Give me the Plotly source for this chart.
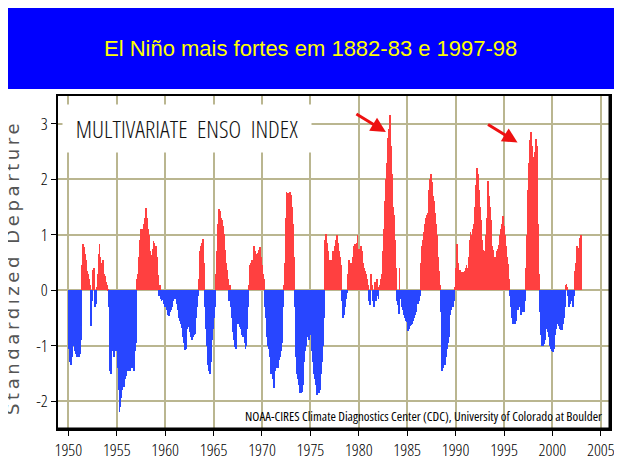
import plotly.graph_objects as go

# ---------------- data (bimonthly MEI) ----------------
years = list(range(1950, 2003))

mei_1950s = [
    -1.05, -1.15, -1.3, -1.35, -1.2, -1.0, -0.9, -0.95, -1.1, -1.15, -1.2, -1.2,   # 1950
    -1.2, -1.2, -1.15, -0.9, 0.45, 0.75, 0.84, 0.78, 0.65, 0.5, 0.55, 0.35,        # 1951
    0.3, 0.2, 0.1, -0.3, -0.64, -0.2, 0.36, 0.4, 0.1, -0.3, -0.25, 0.05,           # 1952
    0.3, 0.65, 0.83, 0.6, 0.45, 0.5, 0.55, 0.4, 0.3, 0.25, 0.15, 0.1,              # 1953
    0.05, 0.02, -0.3, -1.45, -1.5, -1.2, -1.0, -1.1, -1.2, -1.1, -1.0, -1.05,      # 1954
    -1.1, -1.4, -1.8, -2.2, -2.1, -1.95, -1.8, -1.75, -1.7, -1.75, -1.6, -1.55,    # 1955
    -1.45, -1.45, -1.4, -1.3, -1.45, -1.4, -1.3, -1.2, -1.4, -1.45, -1.1, -0.95,   # 1956
    -0.8, 0.2, 0.3, 0.6, 0.9, 1.0, 1.1, 1.0, 1.1, 1.2, 1.3, 1.42,                  # 1957
    1.49, 1.3, 1.1, 1.0, 0.85, 0.7, 0.55, 0.64, 0.75, 0.88, 0.85, 0.8,             # 1958
    0.79, 0.6, 0.45, 0.28, -0.1, 0.1, -0.15, -0.2, -0.18, -0.15, -0.25, -0.3,      # 1959
]
mei_1960s = [
    -0.3, -0.2, -0.35, -0.45, -0.47, -0.4, -0.3, -0.35, -0.3, -0.2, -0.15, -0.12,  # 1960
    -0.12, -0.15, -0.25, -0.35, -0.45, -0.5, -0.55, -0.6, -0.68, -0.75, -0.85, -0.95,  # 1961
    -1.07, -1.05, -0.9, -0.7, -0.6, -0.66, -0.75, -0.84, -0.85, -0.9, -0.84, -0.8,  # 1962
    -0.78, -0.75, -0.5, -0.3, -0.1, 0.2, 0.5, 0.7, 0.8, 0.85, 0.93, 0.8,           # 1963
    0.5, -0.3, -0.7, -1.0, -1.2, -1.35, -1.45, -1.5, -1.3, -1.1, -0.9, -0.7,       # 1964
    -0.5, -0.3, -0.2, 0.3, 0.7, 1.2, 1.47, 1.42, 1.38, 1.3, 1.26, 1.15,            # 1965
    1.02, 0.85, 0.72, 0.5, 0.36, 0.2, -0.1, -0.2, 0.1, -0.3, -0.5, -0.66,          # 1966
    -0.75, -0.9, -1.02, -1.05, -0.8, -0.6, -0.54, -0.6, -0.66, -0.7, -0.75, -0.8,  # 1967
    -0.85, -0.78, -0.95, -1.05, -1.0, -0.7, -0.3, 0.1, 0.3, 0.45, 0.5, 0.55,       # 1968
    0.55, 0.7, 0.79, 0.7, 0.65, 0.6, 0.62, 0.67, 0.72, 0.78, 0.6, 0.45,            # 1969
]
mei_1970s = [
    0.45, 0.3, 0.2, -0.3, -0.5, -0.7, -0.85, -1.0, -1.05, -1.2, -1.35, -1.5,       # 1970
    -1.5, -1.6, -1.77, -1.7, -1.45, -1.4, -1.4, -1.4, -1.3, -1.25, -1.2, -1.1,     # 1971
    -0.95, -0.7, -0.3, 0.1, 0.5, 1.3, 1.77, 1.75, 1.7, 1.75, 1.77, 1.72,           # 1972
    1.7, 1.5, 1.2, 0.6, -0.3, -0.8, -1.2, -1.5, -1.6, -1.7, -1.8, -1.86,           # 1973
    -1.86, -1.83, -1.7, -1.5, -1.3, -1.1, -1.0, -0.85, -0.7, -0.8, -0.9, -0.8,     # 1974
    -0.7, -0.9, -1.1, -1.3, -1.5, -1.6, -1.7, -1.85, -1.89, -1.8, -1.85, -1.8,     # 1975
    -1.7, -1.5, -1.3, -1.0, -0.5, 0.3, 0.9, 1.02, 0.85, 0.7, 0.6, 0.55,            # 1976
    0.55, 0.5, 0.55, 0.6, 0.7, 0.65, 0.8, 0.9, 1.0, 1.0, 0.85, 0.7,                # 1977
    0.6, 0.45, 0.3, -0.2, -0.5, -0.45, -0.3, -0.25, -0.15, -0.05, 0.3, 0.54,       # 1978
    0.3, 0.4, 0.5, 0.45, 0.6, 0.74, 0.8, 0.84, 0.78, 0.85, 0.99, 0.65,             # 1979
]
mei_1980s = [
    0.75, 0.7, 0.8, 0.7, 0.6, 0.5, 0.4, 0.35, 0.3, 0.3, 0.2, 0.1,                  # 1980
    -0.2, -0.27, -0.1, 0.3, 0.1, -0.2, -0.3, -0.25, 0.15, -0.2, 0.2, -0.1,         # 1981
    -0.15, 0.05, 0.1, 0.2, 0.3, 0.4, 0.7, 1.1, 1.6, 2.0, 2.3, 2.6,                 # 1982
    2.75, 2.9, 3.15, 2.6, 2.3, 2.1, 1.5, 1.35, 0.9, 0.6, 0.4, -0.2,                # 1983
    -0.27, -0.42, 0.4, -0.1, -0.15, -0.3, -0.35, -0.4, -0.45, -0.5, -0.55, -0.57,  # 1984
    -0.6, -0.74, -0.7, -0.65, -0.63, -0.6, -0.5, -0.55, -0.5, -0.45, -0.4, -0.3,   # 1985
    -0.2, -0.25, -0.2, -0.1, 0.3, 0.5, 0.8, 0.9, 1.05, 1.1, 1.2, 1.3,              # 1986
    1.35, 1.4, 1.6, 1.8, 2.0, 2.1, 1.95, 1.9, 1.7, 1.6, 1.4, 1.2,                  # 1987
    1.0, 0.8, 0.6, 0.35, 0.1, -0.4, -0.9, -1.45, -1.4, -1.3, -1.35, -1.3,          # 1988
    -1.2, -1.05, -0.95, -0.84, -0.6, -0.45, -0.35, -0.3, -0.3, -0.25, -0.2, 0.05,  # 1989
]
mei_1990s = [
    0.4, 0.84, 0.5, 0.36, 0.3, 0.36, 0.33, 0.3, 0.3, 0.33, 0.33, 0.35,             # 1990
    0.4, 0.45, 0.35, 0.4, 0.6, 0.9, 1.05, 0.9, 1.0, 1.1, 1.2, 1.26,                # 1991
    1.5, 1.9, 2.2, 2.1, 1.95, 1.8, 1.5, 1.26, 0.9, 0.72, 0.6, 0.55,                # 1992
    0.7, 1.0, 1.3, 1.6, 1.96, 1.7, 1.5, 1.26, 1.0, 0.8, 0.72, 0.6,                 # 1993
    0.55, 0.54, 0.6, 0.7, 0.75, 0.81, 0.9, 1.0, 1.1, 1.2, 1.33, 1.2,               # 1994
    1.15, 1.0, 0.8, 0.6, 0.47, 0.3, 0.2, -0.1, -0.3, -0.5, -0.6, -0.55,            # 1995
    -0.6, -0.6, -0.55, -0.4, -0.3, -0.35, -0.25, -0.3, -0.4, -0.45, -0.4, -0.35,   # 1996
    -0.4, -0.3, -0.2, 0.4, 1.0, 1.8, 2.3, 2.55, 2.7, 2.85, 2.6, 2.3,               # 1997
    2.25, 2.4, 2.5, 2.73, 2.6, 1.9, 1.2, 0.3, -0.4, -0.8, -1.0, -0.96,             # 1998
    -1.0, -0.97, -0.9, -0.85, -0.7, -0.6, -0.75, -0.85, -0.9, -1.0, -1.05, -1.1,   # 1999
]
mei_2000s = [
    -1.11, -1.05, -0.9, -0.8, -0.7, -0.6, -0.57, -0.6, -0.65, -0.7, -0.72, -0.72,  # 2000
    -0.7, -0.6, -0.5, -0.3, 0.1, 0.12, 0.05, -0.1, -0.3, -0.25, -0.2, -0.1,        # 2001
    -0.2, -0.3, -0.1, 0.1, 0.35, 0.5, 0.8, 0.77, 0.7, 0.85, 0.95, 0.99,            # 2002
]

x_tick_vals = list(range(1950, 2006, 5))
x_tick_text = [str(v) for v in x_tick_vals]
y_tick_vals = [-2, -1, 0, 1, 2, 3]
y_tick_text = ["-2", "-1", "0", "1", "2", "3"]

banner_text = "El Niño mais fortes em 1882-83 e 1997-98"
chart_title = "MULTIVARIATE ENSO INDEX"
y_title = "Standardized Departure"
credit = "NOAA-CIRES Climate Diagnostics Center (CDC), University of Colorado at Boulder"
peaks = [(1982.8, 2.85), (1996.4, 2.66)]  # arrow tips (year, value)

# ---------------- build ----------------
values = mei_1950s + mei_1960s + mei_1970s + mei_1980s + mei_1990s + mei_2000s
xs = [y + (m + 0.5) / 12 for y in years for m in range(12)]
pos = [v if v > 0 else 0 for v in values]
neg = [v if v < 0 else 0 for v in values]

RED = "#ff4040"
BLUE = "#2846ff"
GRID = "#bab690"
COND = "Open Sans, sans-serif"


def narrow(s, extra=""):
    return '<span style="font-stretch:75%;' + extra + '">' + s + '</span>'


fig = go.Figure()
fig.add_bar(x=xs, y=pos, width=1 / 12, marker=dict(color=RED, line_width=0), hoverinfo="skip")
fig.add_bar(x=xs, y=neg, width=1 / 12, marker=dict(color=BLUE, line_width=0), hoverinfo="skip")

# page body adds an 8px offset; place the plot so it lands where the reference has it
W, H = 622, 457
OFF = 8
PL, PT, PW, PH = 58, 96, 552, 333          # plot area in screenshot pixels
L, T = PL - OFF, PT - OFF
R, B = W - L - PW, H - T - PH


def px(xs_):
    return (xs_ - PL) / PW


def py(ys_):
    return (PT + PH - ys_) / PH


tick_font = dict(family=COND, size=17, color="black", weight=300)

fig.update_layout(
    template="none",
    width=W, height=H,
    margin=dict(l=L, r=R, t=T, b=B, pad=0, autoexpand=False),
    paper_bgcolor="white", plot_bgcolor="white",
    barmode="overlay", bargap=0,
    showlegend=False,
    xaxis=dict(
        automargin=False,
        range=[1948.93, 2005.95], tickmode="array", tickvals=x_tick_vals,
        ticktext=[narrow(t) for t in x_tick_text],
        showgrid=True, gridcolor=GRID, gridwidth=2, zeroline=False,
        showline=True, linecolor="black", linewidth=2, mirror=True,
        ticks="outside", ticklen=5, tickcolor="black", tickwidth=1,
        tickfont=tick_font,
    ),
    yaxis=dict(
        automargin=False,
        range=[-2.5, 3.5], tickmode="array", tickvals=y_tick_vals,
        ticktext=[narrow(t) for t in y_tick_text],
        showgrid=True, gridcolor=GRID, gridwidth=2, zeroline=False,
        showline=True, linecolor="black", linewidth=2, mirror=True,
        ticks="outside", ticklen=5, tickcolor="black", tickwidth=1,
        tickfont=tick_font,
    ),
    shapes=[
        dict(type="rect", xref="paper", yref="paper",
             x0=px(8), x1=px(640), y0=py(89), y1=py(7),
             fillcolor="#0000ff", line_width=0, layer="above"),
        # heavier right / bottom edge of the frame
        dict(type="line", xref="paper", yref="paper", x0=1, x1=1, y0=0, y1=1,
             line=dict(color="black", width=3), layer="above"),
        dict(type="line", xref="paper", yref="paper", x0=0, x1=1, y0=0, y1=0,
             line=dict(color="black", width=3), layer="above"),
    ],
)

annotations = [
    dict(text=banner_text, xref="paper", yref="paper", x=px(310), y=py(49),
         xanchor="center", yanchor="middle", showarrow=False,
         font=dict(family="Liberation Sans, Arial, sans-serif", size=22, color="#ffff00")),
    dict(text=narrow(chart_title, "word-spacing:5px"), xref="paper", yref="paper",
         x=px(187), y=py(128.5),
         xanchor="center", yanchor="middle", showarrow=False,
         width=248, height=47, bgcolor="white", borderpad=0,
         font=dict(family=COND, size=24, color="#111111", weight=300)),
    dict(text='<span style="letter-spacing:3.6px">' + y_title + '</span>',
         xref="paper", yref="paper", x=px(12), y=py(268),
         xanchor="center", yanchor="middle", textangle=-90, showarrow=False,
         font=dict(family="DejaVu Sans, sans-serif", size=18, color="#555555")),
    dict(text=narrow(credit), xref="paper", yref="paper", x=px(604), y=py(416),
         xanchor="right", yanchor="middle", showarrow=False,
         font=dict(family=COND, size=13, color="black")),
]
for (px_, py_) in peaks:
    annotations.append(dict(
        x=px_, y=py_, xref="x", yref="y", text="", showarrow=True,
        ax=-31, ay=-19, arrowhead=2, arrowsize=1, arrowwidth=3, arrowcolor="#ee1111"))
fig.update_layout(annotations=annotations)

fig.write_html("out.html")
